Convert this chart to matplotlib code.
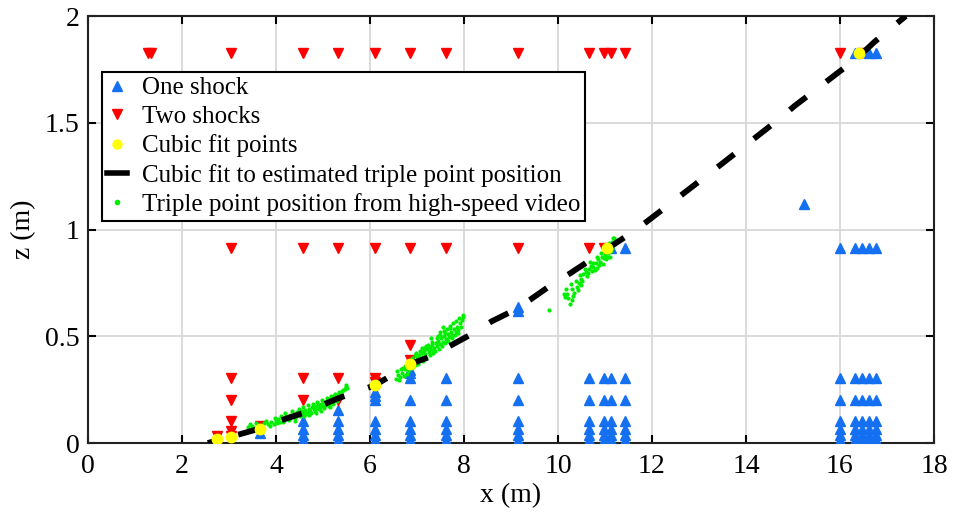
import matplotlib
matplotlib.use("Agg")
from matplotlib import pyplot as plt
from matplotlib.lines import Line2D

plt.rcParams['font.family'] = ['Liberation Serif', 'DejaVu Serif']

# gauge columns (m) and heights (m)
low_rows = [0.305, 0.203, 0.102, 0.064, 0.038, 0.015]
full_cols = [7.62, 9.14, 10.67, 10.97, 11.13, 11.43, 16.0, 16.31, 16.46, 16.61, 16.76]

one_x = [6.86, 6.86, 6.86, 6.86, 6.86, 6.86, 6.86, 6.86,
         6.10, 6.10, 6.10, 6.10, 6.10, 6.10, 6.10,
         5.33, 5.33, 5.33, 5.33, 5.33,
         4.57, 4.57, 4.57, 4.57,
         3.66, 9.14, 9.14,
         11.13, 11.43, 16.0, 16.31, 16.46, 16.61, 16.76,
         15.24, 16.31, 16.61, 16.76]
one_z = [0.342, 0.326, 0.305, 0.203, 0.102, 0.064, 0.038, 0.015,
         0.24, 0.22, 0.2, 0.102, 0.064, 0.038, 0.015,
         0.155, 0.102, 0.064, 0.038, 0.015,
         0.102, 0.064, 0.038, 0.015,
         0.045, 0.635, 0.62,
         0.914, 0.914, 0.914, 0.914, 0.914, 0.914, 0.914,
         1.12, 1.829, 1.829, 1.829]

two_x = [1.27, 1.35, 3.05, 4.57, 5.33, 6.10, 6.86, 7.62, 9.14, 10.67, 10.97, 11.13, 11.43, 16.0, 16.46,
         3.05, 4.57, 5.33, 6.10, 6.86, 7.62, 9.14, 10.67, 10.97,
         3.05, 3.05, 3.05, 3.05, 3.05, 2.74, 3.66,
         4.57, 4.57, 5.33, 5.33, 6.10, 6.10, 6.86, 6.86]
two_z = [1.829] * 15 + [0.914] * 9 + \
        [0.305, 0.203, 0.102, 0.055, 0.035, 0.033, 0.078,
         0.305, 0.203, 0.305, 0.203, 0.305, 0.285, 0.459, 0.389]

fit_pts_x = [2.74, 3.05, 3.66, 6.10, 6.86, 11.05, 16.41]
fit_pts_z = [0.018, 0.03, 0.066, 0.27, 0.372, 0.912, 1.826]

# cubic fit curve
curve_x = [2.55, 3.05, 3.66, 4.09, 4.57, 5.33, 6.10, 6.53, 6.86, 7.35, 7.62, 8.16, 8.59, 9.05,
           9.4, 9.79, 10.26, 10.57, 11.05, 11.67, 12.5, 13.5, 14.72, 15.04, 15.43, 15.93,
           16.35, 16.74, 17.4]
curve_z = [0.0, 0.03, 0.068, 0.105, 0.14, 0.21, 0.27, 0.326, 0.37, 0.41, 0.445, 0.51, 0.57, 0.62,
           0.67, 0.73, 0.795, 0.84, 0.91, 1.0, 1.14, 1.31, 1.52, 1.58, 1.645, 1.73,
           1.80, 1.88, 2.0]

# triple point from video, three bursts
video_x = [3.40, 3.50, 3.55, 3.62, 3.70, 3.75, 3.82, 3.90, 3.95, 4.00, 4.05, 4.08, 4.12, 4.18,
           4.22, 4.25, 4.30, 4.33, 4.38, 4.42, 4.45, 4.50, 4.55, 4.58, 4.62, 4.66, 4.70, 4.72,
           4.76, 4.80, 4.83, 4.86, 4.90, 4.93, 4.96, 5.00, 5.03, 5.06, 5.10, 5.13, 5.16, 5.20,
           5.24, 5.28, 5.32, 5.36, 5.40, 5.46, 5.50, 4.85, 4.60, 4.95, 5.15, 4.40, 4.70,
           3.45, 3.58, 3.68, 3.78, 3.88, 3.98, 4.02, 4.10, 4.15, 4.20, 4.28, 4.35, 4.40, 4.48,
           4.52, 4.57, 4.64, 4.68, 4.74, 4.78, 4.82, 4.88, 4.92, 4.98, 5.02, 5.08, 5.12, 5.18,
           5.22, 5.26, 5.30, 5.34, 5.38, 5.43, 5.48, 5.52,
           6.55, 6.60, 6.62, 6.68, 6.72, 6.75, 6.80, 6.83, 6.88, 6.90, 6.93, 6.96, 7.00, 7.03,
           7.05, 7.08, 7.10, 7.13, 7.16, 7.18, 7.22, 7.25, 7.28, 7.30, 7.33, 7.36, 7.40, 7.42,
           7.45, 7.48, 7.52, 7.55, 7.58, 7.62, 7.65, 7.68, 7.72, 7.75, 7.78, 7.82, 7.85, 7.88,
           7.92, 7.96, 7.98, 7.70, 7.50, 7.20, 6.95, 7.35, 6.70,
           6.58, 6.64, 6.66, 6.74, 6.78, 6.85, 6.92, 6.98, 7.02, 7.06, 7.12, 7.15, 7.20, 7.24,
           7.27, 7.32, 7.38, 7.43, 7.46, 7.50, 7.53, 7.57, 7.60, 7.64, 7.67, 7.71, 7.74, 7.77,
           7.80, 7.84, 7.87, 7.90, 7.94, 7.97, 7.10, 7.30, 7.55, 6.90, 7.45, 7.60,
           9.81, 10.15, 10.26, 10.20, 10.30, 10.35, 10.40, 10.45, 10.48, 10.50, 10.54, 10.56,
           10.60, 10.62, 10.66, 10.70, 10.72, 10.75, 10.80, 10.83, 10.86, 10.90, 10.93, 10.96,
           11.00, 11.02, 11.04, 11.07, 11.10, 11.12, 11.15, 11.18, 11.20, 11.22,
           10.18, 10.22, 10.28, 10.33, 10.38, 10.42, 10.46, 10.52, 10.58, 10.64, 10.68, 10.74,
           10.78, 10.82, 10.88, 10.92, 10.98, 11.02, 11.06, 11.09, 11.13, 11.16, 11.20, 11.24,
           10.12, 10.30]
video_z = [0.075, 0.080, 0.072, 0.085, 0.080, 0.092, 0.088, 0.098, 0.090, 0.105, 0.112, 0.098,
           0.118, 0.110, 0.125, 0.115, 0.130, 0.120, 0.138, 0.128, 0.145, 0.135, 0.150, 0.140,
           0.155, 0.145, 0.160, 0.150, 0.168, 0.158, 0.172, 0.162, 0.178, 0.168, 0.185, 0.175,
           0.190, 0.180, 0.198, 0.188, 0.205, 0.195, 0.215, 0.205, 0.225, 0.235, 0.245, 0.255,
           0.262, 0.140, 0.125, 0.150, 0.170, 0.105, 0.130,
           0.090, 0.095, 0.070, 0.105, 0.082, 0.118, 0.092, 0.128, 0.100, 0.140, 0.108, 0.150,
           0.118, 0.160, 0.125, 0.170, 0.135, 0.178, 0.140, 0.185, 0.150, 0.192, 0.158, 0.200,
           0.165, 0.210, 0.175, 0.220, 0.185, 0.230, 0.195, 0.240, 0.215, 0.250, 0.270, 0.258,
           0.300, 0.320, 0.295, 0.330, 0.315, 0.345, 0.335, 0.360, 0.350, 0.375, 0.390, 0.365,
           0.400, 0.385, 0.410, 0.395, 0.420, 0.405, 0.430, 0.415, 0.440, 0.425, 0.450, 0.435,
           0.460, 0.445, 0.470, 0.455, 0.480, 0.465, 0.490, 0.475, 0.500, 0.485, 0.510, 0.495,
           0.520, 0.505, 0.535, 0.520, 0.545, 0.530, 0.560, 0.575, 0.600, 0.540, 0.505, 0.455,
           0.410, 0.420, 0.350,
           0.335, 0.310, 0.345, 0.360, 0.325, 0.380, 0.355, 0.420, 0.370, 0.430, 0.385, 0.445,
           0.400, 0.460, 0.410, 0.475, 0.430, 0.490, 0.440, 0.520, 0.455, 0.525, 0.470, 0.535,
           0.480, 0.550, 0.490, 0.560, 0.505, 0.570, 0.515, 0.585, 0.545, 0.590, 0.445, 0.490,
           0.545, 0.400, 0.500, 0.515,
           0.623, 0.685, 0.651, 0.700, 0.720, 0.705, 0.732, 0.750, 0.770, 0.740, 0.790, 0.840,
           0.800, 0.780, 0.815, 0.830, 0.805, 0.826, 0.845, 0.820, 0.860, 0.850, 0.870, 0.840,
           0.880, 0.860, 0.904, 0.890, 0.873, 0.920, 0.940, 0.959, 0.930, 0.950,
           0.720, 0.680, 0.745, 0.690, 0.760, 0.715, 0.785, 0.760, 0.815, 0.795, 0.850, 0.845,
           0.810, 0.870, 0.835, 0.890, 0.865, 0.920, 0.870, 0.935, 0.900, 0.915, 0.960, 0.940,
           0.700, 0.670]

xticks = [0, 2, 4, 6, 8, 10, 12, 14, 16, 18]
yticks = [0, 0.5, 1, 1.5, 2]
ytick_labels = ['0', '0.5', '1', '1.5', '2']

for c in full_cols:
    one_x = one_x + [c] * len(low_rows)
    one_z = one_z + low_rows

blue = '#1470f0'
green = '#00ee00'
fig = plt.figure(figsize=(9.54, 5.19), dpi=100)
ax = fig.add_axes([0.0922, 0.1464, 0.8868, 0.8227])

ax.plot(one_x, one_z, '^', color=blue, ms=7.5, mec=blue, ls='none', zorder=3)
ax.plot(two_x, two_z, 'v', color='red', ms=7.5, mec='red', ls='none', zorder=4)
ax.plot(video_x, video_z, 'o', color=green, ms=3, mew=0, ls='none', zorder=5)
ax.plot(curve_x, curve_z, color='black', lw=4.2, ls=(2.5, (3.6, 4.3)), zorder=6)
ax.plot(fit_pts_x, fit_pts_z, 'o', color='yellow', ms=7.5, mec='yellow', ls='none', zorder=7)

ax.set_xlim(0, 18)
ax.set_ylim(0, 2)
ax.set_xticks(xticks)
ax.set_yticks(yticks)
ax.set_yticklabels(ytick_labels)
ax.tick_params(direction='in', length=6, width=1.5, labelsize=20, top=True, right=True)
ax.tick_params(axis='x', pad=8)
ax.tick_params(axis='y', pad=6)
ax.grid(True, color='#d8d8d8', lw=1.3)
ax.set_axisbelow(True)
for s in ax.spines.values():
    s.set_linewidth(1.5)
    s.set_color('#222222')

ax.set_xlabel('x (m)', fontsize=20, labelpad=3)
ax.set_ylabel('z (m)', fontsize=20, labelpad=6)

handles = [
    Line2D([], [], marker='^', color=blue, ls='none', ms=6.5),
    Line2D([], [], marker='v', color='red', ls='none', ms=6.5),
    Line2D([], [], marker='o', color='yellow', ls='none', ms=6.5),
    Line2D([], [], color='black', lw=4),
    Line2D([], [], marker='o', color=green, ls='none', ms=3),
]
labels = ['One shock', 'Two shocks', 'Cubic fit points',
          'Cubic fit to estimated triple point position',
          'Triple point position from high-speed video']
leg = ax.legend(handles, labels, loc='upper left', bbox_to_anchor=(0.0165, 0.869),
                fontsize=18, fancybox=False, framealpha=1, edgecolor='black',
                handlelength=0.8, handletextpad=0.6, labelspacing=0.25,
                borderpad=0.2, borderaxespad=0)
leg.get_frame().set_linewidth(1.5)

fig.savefig('out.png', dpi=100)
